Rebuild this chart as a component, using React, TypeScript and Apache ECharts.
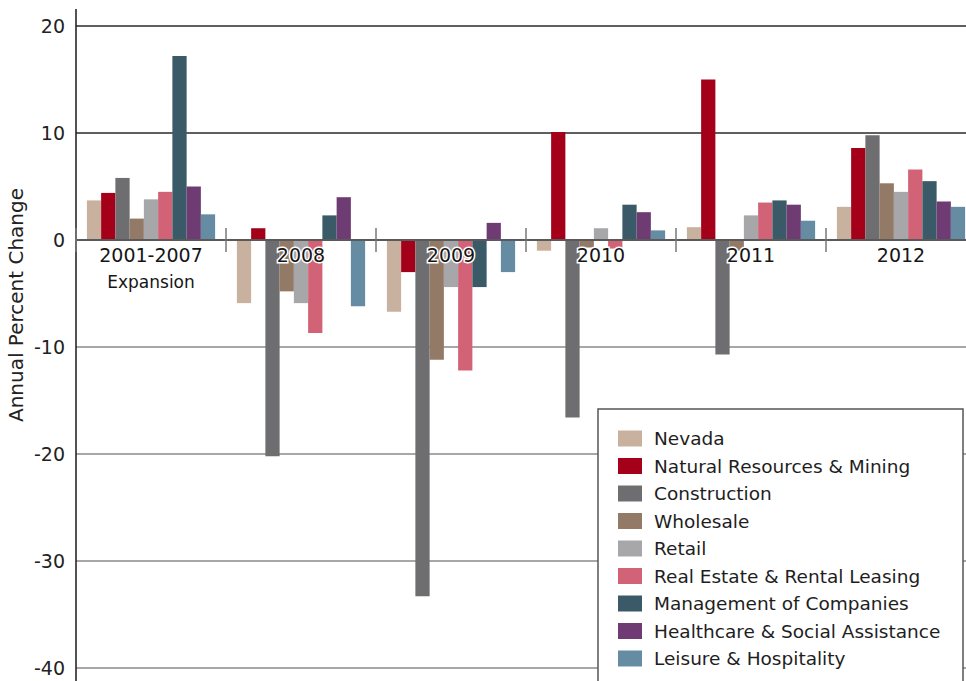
import React, { useEffect, useRef } from "react";
import * as echarts from "echarts";

// Periods on the category axis
const periods = ["2001-2007", "2008", "2009", "2010", "2011", "2012"];
const periodNote = "Expansion";

// Annual percent change in employment, by sector
const nevada = [3.7, -5.9, -6.7, -1.0, 1.2, 3.1];
const naturalResources = [4.4, 1.1, -3.0, 10.1, 15.0, 8.6];
const construction = [5.8, -20.2, -33.3, -16.6, -10.7, 9.8];
const wholesale = [2.0, -4.8, -11.2, -0.7, -1.0, 5.3];
const retail = [3.8, -5.9, -4.4, 1.1, 2.3, 4.5];
const realEstate = [4.5, -8.7, -12.2, -0.8, 3.5, 6.6];
const management = [17.2, 2.3, -4.4, 3.3, 3.7, 5.5];
const healthcare = [5.0, 4.0, 1.6, 2.6, 3.3, 3.6];
const leisure = [2.4, -6.2, -3.0, 0.9, 1.8, 3.1];

const sectorNames = [
  "Nevada",
  "Natural Resources & Mining",
  "Construction",
  "Wholesale",
  "Retail",
  "Real Estate & Rental Leasing",
  "Management of Companies",
  "Healthcare & Social Assistance",
  "Leisure & Hospitality",
];
const sectorValues = [
  nevada,
  naturalResources,
  construction,
  wholesale,
  retail,
  realEstate,
  management,
  healthcare,
  leisure,
];
const sectorColors = [
  "#c8b29f",
  "#a50019",
  "#6e6e70",
  "#937a66",
  "#a7a7aa",
  "#d26275",
  "#3b5a67",
  "#6e3c72",
  "#668ca3",
];

const axisTitle = "Annual Percent Change";
const yMin = -40;
const yMax = 20;
const yStep = 10;

const SANS = "'DejaVu Sans', 'Liberation Sans', sans-serif";

export default function App() {
  const ref = useRef<HTMLDivElement>(null);

  useEffect(() => {
    if (!ref.current) return;
    const chart = echarts.init(ref.current, undefined, { renderer: "svg" });

    const series = sectorNames.map((name, i) => ({
      name,
      type: "bar" as const,
      xAxisIndex: 0,
      yAxisIndex: 0,
      data: sectorValues[i],
      barGap: "0%",
      barCategoryGap: "14.5%",
      itemStyle: { color: sectorColors[i] },
      emphasis: { disabled: true },
      z: 2,
    }));

    const grid = { left: 76, right: -10, top: 26, bottom: 13 };
    const gridHeight = 681 - grid.top - grid.bottom;
    // distance from the bottom edge of the grid up to the zero line
    const zeroFromBottom = (gridHeight * (0 - yMin)) / (yMax - yMin);

    chart.setOption({
      animation: false,
      backgroundColor: "#ffffff",
      grid: {
        ...grid,
        containLabel: false,
        outerBoundsMode: "none",
      },
      xAxis: [
        {
          type: "category",
          data: periods,
          position: "bottom",
          z: 10,
          axisLine: {
            onZero: true,
            onZeroAxisIndex: 0,
            lineStyle: { color: "#5a5a5a", width: 2 },
          },
          axisTick: {
            show: true,
            inside: false,
            length: 12,
            lineStyle: { color: "#777777", width: 1.5 },
          },
          axisLabel: {
            margin: 3 - zeroFromBottom,
            interval: 0,
            formatter: (v: string) =>
              v === periods[0] ? `{a|${v}}\n{b|${periodNote}}` : `{a|${v}}`,
            rich: {
              a: {
                fontFamily: SANS,
                fontSize: 19,
                lineHeight: 24,
                color: "#161616",
                textBorderColor: "#ffffff",
                textBorderWidth: 3,
              },
              b: {
                fontFamily: SANS,
                fontSize: 17,
                lineHeight: 30,
                color: "#161616",
              },
            },
          },
          splitLine: { show: false },
        },
        {
          type: "category",
          data: periods,
          position: "bottom",
          z: 10,
          axisLine: { show: false, onZero: true, onZeroAxisIndex: 0 },
          axisTick: {
            show: true,
            inside: true,
            length: 12,
            lineStyle: { color: "#777777", width: 1.5 },
          },
          axisLabel: { show: false },
          splitLine: { show: false },
        },
      ],
      yAxis: {
        type: "value",
        min: yMin,
        max: yMax,
        interval: yStep,
        axisLine: { show: false },
        axisTick: { show: false },
        axisLabel: {
          margin: 11,
          fontFamily: SANS,
          fontSize: 19,
          color: "#222222",
        },
        splitLine: {
          show: true,
          lineStyle: {
            width: 1.5,
            color: [
              "#8a8a8a",
              "#8a8a8a",
              "#8a8a8a",
              "#8a8a8a",
              "#5a5a5a",
              "#2a2a2a",
              "#2a2a2a",
            ],
          },
        },
      },
      legend: {
        orient: "vertical",
        left: 618,
        top: 429,
        height: 280,
        padding: 0,
        itemWidth: 24,
        itemHeight: 16,
        itemGap: 8.5,
        icon: "rect",
        selectedMode: false,
        z: 10,
        textStyle: {
          fontFamily: SANS,
          fontSize: 18.5,
          color: "#1e1e1e",
          padding: [0, 0, 0, 7],
        },
        data: sectorNames,
      },
      graphic: [
        {
          type: "rect",
          z: 5,
          shape: { x: 598, y: 409, width: 365, height: 300 },
          style: { fill: "#ffffff", stroke: "#555555", lineWidth: 1.5 },
        },
        {
          type: "line",
          z: 6,
          shape: { x1: 76, y1: 9, x2: 76, y2: 681 },
          style: { stroke: "#1a1a1a", lineWidth: 1.5 },
        },
        {
          type: "text",
          z: 6,
          x: 16,
          y: 305,
          rotation: Math.PI / 2,
          style: {
            text: axisTitle,
            fontFamily: SANS,
            fontSize: 20,
            fill: "#222222",
            align: "center",
            verticalAlign: "middle",
          },
        },
      ],
      series,
    });

    return () => chart.dispose();
  }, []);

  return (
    <div
      ref={ref}
      style={{ position: "fixed", left: 0, top: 0, width: 966, height: 681 }}
    />
  );
}
